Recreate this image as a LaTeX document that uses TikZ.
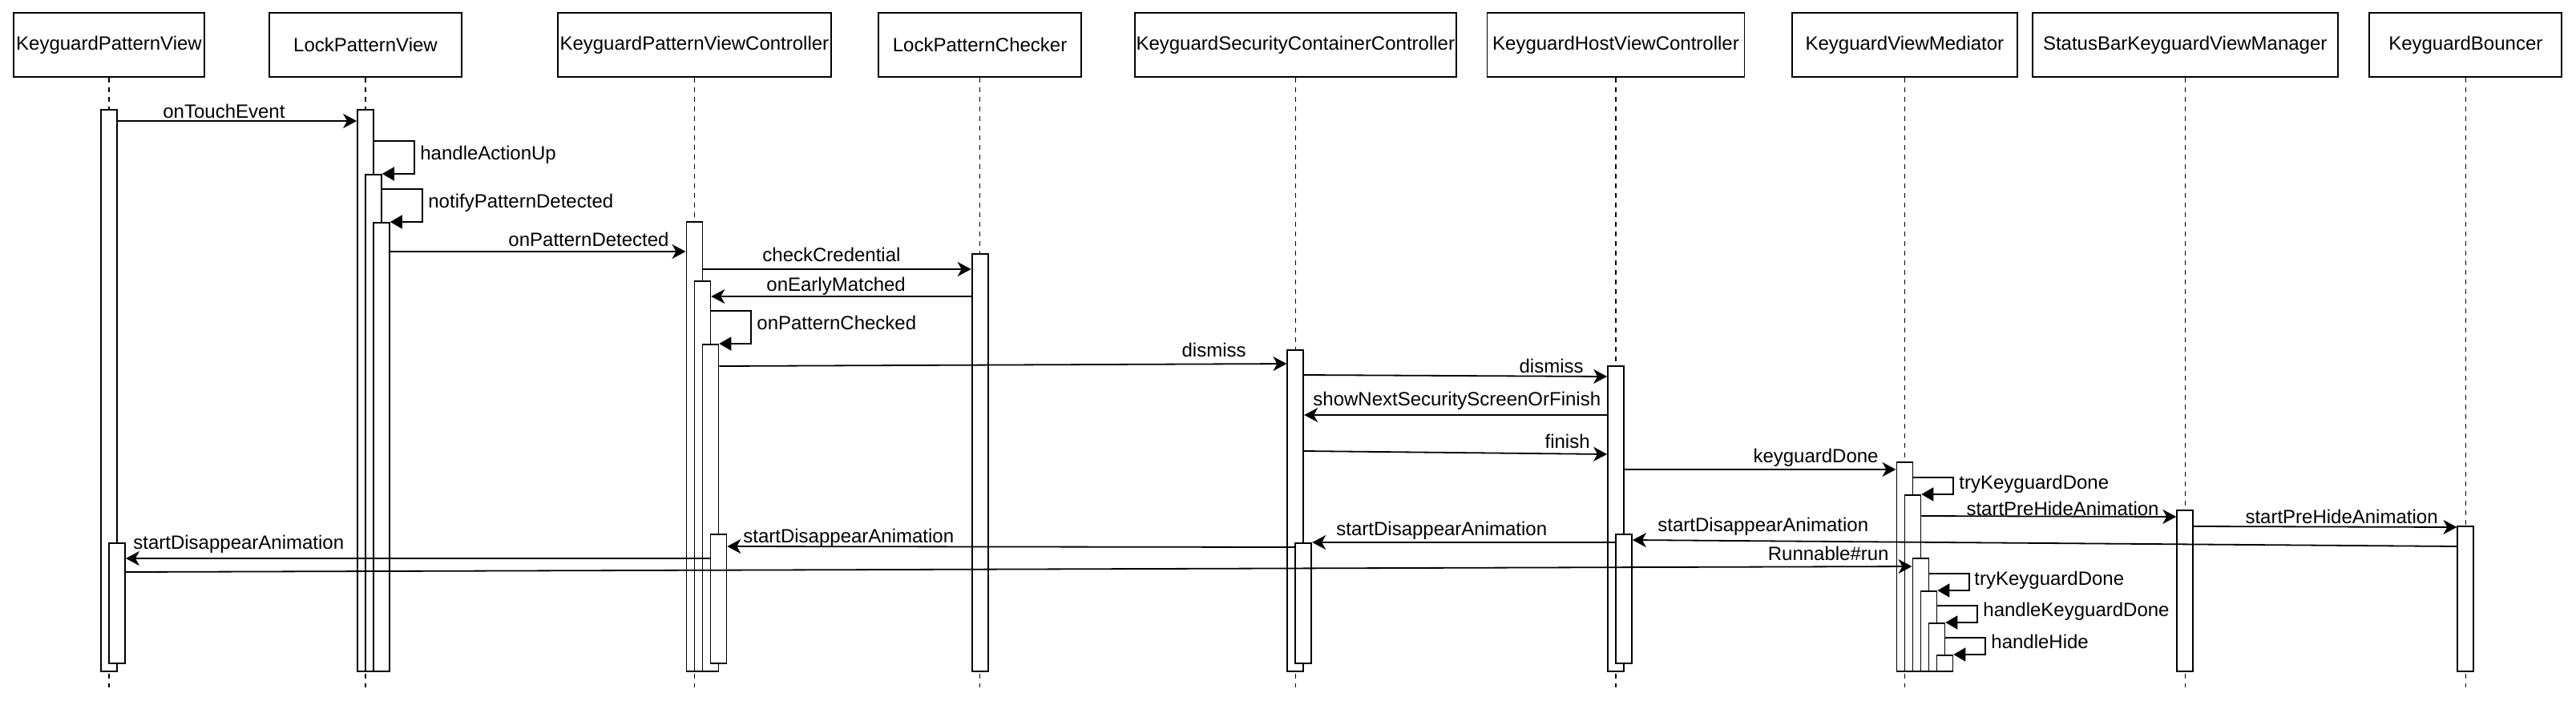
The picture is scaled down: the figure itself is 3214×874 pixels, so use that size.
\documentclass[tikz,border=0pt]{standalone}
\usepackage{fontspec}
\setmainfont{Liberation Sans}
\usetikzlibrary{arrows.meta}

\begin{document}
\begin{tikzpicture}[x=0.5pt, y=-0.5pt,
		every node/.style={font=\fontsize{12}{14}\selectfont},
		head/.style={draw, line width=0.9pt, minimum height=40pt, inner sep=0pt},
		life/.style={dashed, line width=0.6pt},
		actbar/.style={draw, fill=white, line width=0.9pt, minimum width=10pt, inner sep=0pt, anchor=north},
		msg/.style={line width=0.9pt, -{Stealth[length=8.5pt, width=9pt, inset=2.5pt]}},
		selfmsg/.style={line width=0.9pt, -{Triangle[length=7.5pt, width=8.5pt]}},
		lbl/.style={inner sep=0pt}]
		\useasboundingbox (0,0) rectangle (3214,874);
		%-------------------------------------------------------------------------------
		% participants
		%-------------------------------------------------------------------------------
		\node[head, minimum width=119pt] (kpv) at (136,56) {KeyguardPatternView};
		\node[head, minimum width=120pt] (lpv) at (456,56) {LockPatternView};
		\node[head, minimum width=170.5pt] (kpvc) at (866.4,56) {KeyguardPatternViewController};
		\node[head, minimum width=126.5pt] (lpc) at (1222.6,56) {LockPatternChecker};
		\node[head, minimum width=200.5pt] (kscc) at (1616.3,56) {KeyguardSecurityContainerController};
		\node[head, minimum width=160.5pt] (khvc) at (2016,56) {KeyguardHostViewController};
		\node[head, minimum width=140.5pt] (kvm) at (2376.4,56) {KeyguardViewMediator};
		\node[head, minimum width=190.5pt] (sbkvm) at (2726.2,56) {StatusBarKeyguardViewManager};
		\node[head, minimum width=120pt] (kb) at (3076.3,56) {KeyguardBouncer};
		
		% lifelines
		\draw[life] (kpv.south) -- (kpv.south |- 0,858);
		\draw[life] (lpv.south) -- (lpv.south |- 0,858);
		\draw[life] (kpvc.south) -- (kpvc.south |- 0,858);
		\draw[life] (lpc.south) -- (lpc.south |- 0,858);
		\draw[life] (kscc.south) -- (kscc.south |- 0,858);
		\draw[life] (khvc.south) -- (khvc.south |- 0,858);
		\draw[life] (kvm.south) -- (kvm.south |- 0,858);
		\draw[life] (sbkvm.south) -- (sbkvm.south |- 0,858);
		\draw[life] (kb.south) -- (kb.south |- 0,858);
		
		% activation bars
		\node[actbar, minimum height=350.5pt] (kpv1) at (136,136) {};
		\node[actbar, minimum height=75pt] (kpv2) at (146,677) {};
		\node[actbar, minimum height=350.5pt] (lpv1) at (456,136) {};
		\node[actbar, minimum height=310pt] (lpv2) at (466,217) {};
		\node[actbar, minimum height=280pt] (lpv3) at (476,277) {};
		\node[actbar, minimum height=280.5pt] (kpvc1) at (866.4,276) {};
		\node[actbar, minimum height=243.5pt] (kpvc2) at (876.4,350) {};
		\node[actbar, minimum height=204pt] (kpvc3) at (886.4,429) {};
		\node[actbar, minimum height=80.5pt] (kpvc4) at (896.4,666) {};
		\node[actbar, minimum height=260.5pt] (lpc1) at (1222.6,316) {};
		\node[actbar, minimum height=200.5pt] (kscc1) at (1616.3,436) {};
		\node[actbar, minimum height=75pt] (kscc2) at (1626.3,677) {};
		\node[actbar, minimum height=190.5pt] (khvc1) at (2016,456) {};
		\node[actbar, minimum height=80.5pt] (khvc2) at (2026,666) {};
		\node[actbar, minimum height=130.5pt] (kvm1) at (2376.4,576) {};
		\node[actbar, minimum height=110pt] (kvm2) at (2386.4,617) {};
		\node[actbar, minimum height=70.5pt] (kvm3) at (2396.4,696) {};
		\node[actbar, minimum height=50pt] (kvm4) at (2406.4,737) {};
		\node[actbar, minimum height=30pt] (kvm5) at (2416.4,777) {};
		\node[actbar, minimum height=10pt] (kvm6) at (2426.4,817) {};
		\node[actbar, minimum height=100.5pt] (sbkvm1) at (2726.2,636) {};
		\node[actbar, minimum height=90.5pt] (kb1) at (3076.3,656) {};
		
		% unlock check
		\draw[msg] (kpv1.east |- 0,151) -- (lpv1.west |- 0,151);
		\draw[selfmsg] (lpv1.east |- 0,176) -- ++(50,0) |- (lpv2.east |- 0,217);
		\draw[selfmsg] (lpv2.east |- 0,236) -- ++(50,0) |- (lpv3.east |- 0,277);
		\draw[msg] (lpv3.east |- 0,314) -- (kpvc1.west |- 0,314);
		\draw[msg] (kpvc1.east |- 0,336) -- (lpc1.west |- 0,336);
		\draw[msg] (lpc1.west |- 0,370) -- (kpvc2.east |- 0,370);
		\draw[selfmsg] (kpvc2.east |- 0,388) -- ++(50,0) |- (kpvc3.east |- 0,429);
		% dismiss
		\draw[msg] (kpvc3.east |- 0,457) -- (kscc1.west |- 0,454);
		\draw[msg] (kscc1.east |- 0,468) -- (khvc1.west |- 0,470);
		\draw[msg] (khvc1.west |- 0,518) -- (kscc1.east |- 0,518);
		\draw[msg] (kscc1.east |- 0,563) -- (khvc1.west |- 0,567);
		\draw[msg] (khvc1.east |- 0,586) -- (kvm1.west |- 0,586);
		\draw[selfmsg] (kvm1.east |- 0,596) -- ++(50,0) |- (kvm2.east |- 0,617);
		% animations
		\draw[msg] (kvm2.east |- 0,644) -- (sbkvm1.west |- 0,645);
		\draw[msg] (sbkvm1.east |- 0,657) -- (kb1.west |- 0,658);
		\draw[msg] (kb1.west |- 0,682) -- (khvc2.east |- 0,674);
		\draw[msg] (khvc2.west |- 0,677) -- (kscc2.east |- 0,677);
		\draw[msg] (kscc2.west |- 0,683) -- (kpvc4.east |- 0,682);
		\draw[msg] (kpvc4.west |- 0,697) -- (kpv2.east |- 0,697);
		\draw[msg] (kpv2.east |- 0,714) -- (kvm3.west |- 0,707);
		% hide
		\draw[selfmsg] (kvm3.east |- 0,716) -- ++(50,0) |- (kvm4.east |- 0,737);
		\draw[selfmsg] (kvm4.east |- 0,756) -- ++(50,0) |- (kvm5.east |- 0,777);
		\draw[selfmsg] (kvm5.east |- 0,796) -- ++(50,0) |- (kvm6.east |- 0,817);
		
		% labels
		\node[lbl, anchor=base west] (touch) at (203,147) {onTouchEvent};
		\node[lbl, anchor=base west] (actionup) at (524,199) {handleActionUp};
		\node[lbl, anchor=base west] (notify) at (534,259) {notifyPatternDetected};
		\node[lbl, anchor=base east] (detected) at (835,307) {onPatternDetected};
		\node[lbl, anchor=base west] (check) at (951,326) {checkCredential};
		\node[lbl, anchor=base west] (early) at (956,363) {onEarlyMatched};
		\node[lbl, anchor=base west] (checked) at (944,411) {onPatternChecked};
		\node[lbl, anchor=base east] (dismissa) at (1555,445) {dismiss};
		\node[lbl, anchor=base east] (dismissb) at (1976,465) {dismiss};
		\node[lbl, anchor=base west] (shownext) at (1638,506) {showNextSecurityScreenOrFinish};
		\node[lbl, anchor=base east] (finish) at (1984,559) {finish};
		\node[lbl, anchor=base east] (done) at (2344,577) {keyguardDone};
		\node[lbl, anchor=base west] (trydonea) at (2444,610) {tryKeyguardDone};
		\node[lbl, anchor=base east] (prehidea) at (2694,643) {startPreHideAnimation};
		\node[lbl, anchor=base east] (prehideb) at (3042,653) {startPreHideAnimation};
		\node[lbl, anchor=base west] (disappa) at (2068,663) {startDisappearAnimation};
		\node[lbl, anchor=base west] (disappb) at (1667,668) {startDisappearAnimation};
		\node[lbl, anchor=base west] (disappc) at (927,677) {startDisappearAnimation};
		\node[lbl, anchor=base west] (disappd) at (166,685) {startDisappearAnimation};
		\node[lbl, anchor=base east] (run) at (2357,699) {Runnable\#run};
		\node[lbl, anchor=base west] (trydoneb) at (2463,730) {tryKeyguardDone};
		\node[lbl, anchor=base west] (handledone) at (2474,769) {handleKeyguardDone};
		\node[lbl, anchor=base west] (hide) at (2484,809) {handleHide};
\end{tikzpicture}
\end{document}
